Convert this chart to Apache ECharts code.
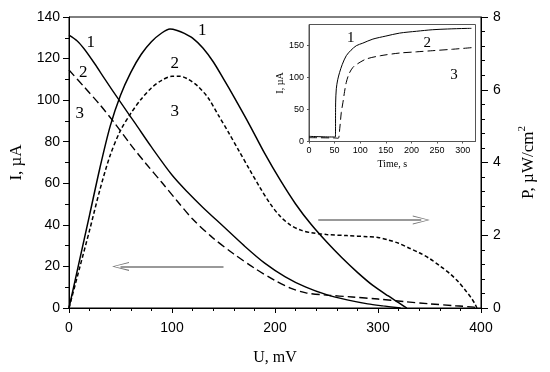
<!DOCTYPE html>
<html>
<head>
<meta charset="utf-8">
<script src="https://cdn.jsdelivr.net/npm/echarts@6/dist/echarts.min.js"></script>
<style>
html,body{margin:0;padding:0;background:#fff;}
#c{width:550px;height:372px;}
</style>
</head>
<body>
<div id="c"></div>
<script>
// ---- main chart data: U (mV) vs I (uA) ----
var iv1 = [[0,131.3],[8,128.5],[15,124.5],[25,117.5],[35,110],[50,99],[65,88.3],[80,77.5],[100,64],[115,55.8],[130,48.4],[150,39.2],[170,30],[190,21.6],[210,15],[230,10],[250,6.4],[270,3.9],[290,2.0],[305,1.0],[322,0]];
var iv2 = [[0,114.5],[15,106.2],[30,97.8],[45,88.5],[60,78.5],[75,69.3],[90,60.5],[105,51.5],[120,42.8],[140,33.6],[160,26],[180,19.2],[200,13.2],[215,9.6],[230,7.3],[250,6.2],[275,5.3],[300,4.3],[325,3.1],[350,2.0],[375,1.1],[393,0.4],[396,0]];
// ---- main chart data: U (mV) vs P (uW/cm2) ----
var p1 = [[0,0],[10,1.28],[20,2.56],[30,3.85],[40,5.0],[50,5.85],[60,6.48],[70,6.97],[80,7.32],[90,7.56],[98,7.67],[105,7.63],[112,7.55],[120,7.42],[130,7.15],[140,6.77],[150,6.3],[160,5.81],[175,5.05],[190,4.25],[205,3.52],[220,2.86],[235,2.3],[250,1.82],[265,1.38],[280,0.98],[295,0.62],[310,0.33],[320,0.15],[328,0]];
var p2 = [[0,0],[10,1.07],[20,2.14],[30,3.25],[40,4.2],[50,4.88],[60,5.35],[70,5.74],[80,6.05],[90,6.26],[100,6.37],[108,6.37],[115,6.3],[125,6.1],[135,5.78],[145,5.3],[155,4.82],[165,4.32],[175,3.82],[185,3.33],[195,2.88],[205,2.52],[215,2.28],[225,2.14],[235,2.07],[250,2.02],[270,1.99],[290,1.96],[300,1.94],[310,1.87],[320,1.78],[330,1.65],[340,1.52],[350,1.36],[360,1.16],[370,0.94],[378,0.72],[385,0.48],[390,0.3],[394,0.12],[396,0]];
// ---- inset data: time (s) vs I (uA) ----
var in1 = [[0,8],[50,7],[51.5,7],[52,60],[53.3,82],[56,96],[59.8,107.6],[65,120],[72.8,133.5],[82,142],[92.3,149],[105,153],[124.7,159.3],[150,164],[176.7,168.6],[210,171.5],[241.6,173.9],[270,175],[306.6,175.9],[317,176]];
var in2 = [[0,6],[50,5.5],[57,5],[60,20],[63,45],[66.3,61],[69.5,78],[72.8,92],[78,105],[85.8,115.4],[95,121],[111.7,128.3],[140,133.5],[176.7,137.6],[210,139.5],[241.6,141.3],[280,143.5],[324,146.4]];
// ---- curve labels (data coordinates) ----
var mainLabels = [[21.7,127.3,'1'],[14.3,113.2,'2'],[11,93.3,'3'],[129.8,133.4,'1'],[103.2,117.2,'2'],[103.2,94.4,'3']];
var insetLabels = [[82.6,160.4,'1'],[231.8,151.6,'2'],[283.9,102.5,'3']];
// ---- arrows (data coordinates) ----
var leftArrow = [[150,20],[50,20]];
var rightArrow = [[242,2.42],[342,2.42]];

var SANS = 'Liberation Sans, Arial, sans-serif';
var SERIF = 'Liberation Serif, Times New Roman, serif';
var chevron = 'path://M0,100 L50,0 L100,100 L88,100 L50,14 L12,100 Z';

function axisCommon(extra){
  var base = {
    type:'value',
    splitLine:{show:false},
    axisLine:{show:true,lineStyle:{color:'#000',width:1}},
    axisTick:{show:true,inside:false,length:5,lineStyle:{color:'#000'}},
    axisLabel:{color:'#000',fontFamily:SANS,fontSize:14},
    nameTextStyle:{color:'#000',fontFamily:SERIF,fontSize:16}
  };
  for (var k in extra) base[k]=extra[k];
  return base;
}
function onlyMultiples(step){ return function(v){ return (Math.abs(v/step - Math.round(v/step))<1e-6) ? String(v) : ''; }; }
function curve(xi, yi, data, width, type){
  return {type:'line',xAxisIndex:xi,yAxisIndex:yi,data:data,symbol:'none',smooth:0.3,
    lineStyle:{color:'#000',width:width,type:type}};
}
function labelSeries(xi, yi, data, size){
  return {type:'scatter',xAxisIndex:xi,yAxisIndex:yi,data:data,symbol:'circle',symbolSize:1,
    itemStyle:{color:'rgba(0,0,0,0)',opacity:1},silent:true,
    label:{show:true,position:[0,0],align:'center',verticalAlign:'middle',opacity:1,
      formatter:function(p){return p.data[2];},
      color:'#000',textBorderWidth:0,fontFamily:SERIF,fontSize:size}};
}

var chart = echarts.init(document.getElementById('c'), null, {renderer:'canvas'});
var sIV1 = curve(0,0,iv1,1.4,'solid');
sIV1.markLine = {silent:true,symbol:['none',chevron],symbolSize:[9,17],label:{show:false},
  lineStyle:{color:'#777',width:1.6,type:'solid'},
  data:[[{coord:leftArrow[0]},{coord:leftArrow[1]}]]};
var sP1 = curve(0,1,p1,1.5,'solid');
sP1.markLine = {silent:true,symbol:['none',chevron],symbolSize:[9,17],label:{show:false},
  lineStyle:{color:'#777',width:1.6,type:'solid'},
  data:[[{coord:rightArrow[0]},{coord:rightArrow[1]}]]};

chart.setOption({
  animation:false,
  backgroundColor:'#fff',
  grid:[
    {left:69,right:69,top:17,bottom:64,show:true,borderColor:'#000',borderWidth:1,containLabel:false},
    {left:309,right:74.5,top:24.5,bottom:230.5,show:true,borderColor:'#555',borderWidth:1,backgroundColor:'#fff',containLabel:false}
  ],
  xAxis:[
    axisCommon({gridIndex:0,min:0,max:400,interval:100,
      minorTick:{show:true,splitNumber:5,length:3,lineStyle:{color:'#000'}},
      axisLabel:{color:'#000',fontFamily:SANS,fontSize:14,margin:13},
      name:'U, mV',nameLocation:'middle',nameGap:42,
      nameTextStyle:{color:'#000',fontFamily:SERIF,fontSize:16}}),
    axisCommon({gridIndex:1,min:0,max:325,interval:50,
      axisLine:{show:true,lineStyle:{color:'#555',width:1}},
      axisTick:{show:true,length:2,lineStyle:{color:'#555'}},
      axisLabel:{color:'#000',fontFamily:SANS,fontSize:9,margin:5,formatter:onlyMultiples(50),showMaxLabel:false},
      name:'Time, s',nameLocation:'middle',nameGap:18,
      nameTextStyle:{color:'#000',fontFamily:SERIF,fontSize:10}})
  ],
  yAxis:[
    axisCommon({gridIndex:0,position:'left',min:0,max:140,interval:20,
      minorTick:{show:true,splitNumber:2,length:4,lineStyle:{color:'#000'}},
      axisTick:{show:true,length:6,lineStyle:{color:'#000'}},
      axisLabel:{color:'#000',fontFamily:SANS,fontSize:14,margin:9},
      name:'I, µA',nameLocation:'middle',nameGap:44,
      nameTextStyle:{color:'#000',fontFamily:SERIF,fontSize:17}}),
    axisCommon({gridIndex:0,position:'right',min:0,max:8,interval:2,
      minorTick:{show:true,splitNumber:5,length:4,lineStyle:{color:'#000'}},
      axisTick:{show:true,length:7,lineStyle:{color:'#000'}},
      axisLabel:{color:'#000',fontFamily:SANS,fontSize:14,margin:12},
      name:'{a|P, µW/cm}{s|2}',nameLocation:'middle',nameGap:36,
      nameTextStyle:{color:'#000',fontFamily:SERIF,fontSize:17,
        rich:{a:{fontFamily:SERIF,fontSize:17,color:'#000',lineHeight:20,verticalAlign:'bottom'},
              s:{fontFamily:SERIF,fontSize:11,color:'#000',lineHeight:20,verticalAlign:'top'}}}}),
    axisCommon({gridIndex:1,min:0,max:182,interval:50,
      axisLine:{show:true,lineStyle:{color:'#555',width:1}},
      axisTick:{show:true,length:2,lineStyle:{color:'#555'}},
      axisLabel:{color:'#000',fontFamily:SANS,fontSize:9,margin:5,formatter:onlyMultiples(50),showMaxLabel:false},
      name:'I, µA',nameLocation:'middle',nameGap:24,
      nameTextStyle:{color:'#000',fontFamily:SERIF,fontSize:10}})
  ],
  series:[
    sIV1,
    curve(0,0,iv2,1.4,[8,4]),
    sP1,
    curve(0,1,p2,1.5,[4,2.5]),
    curve(1,2,in1,1,'solid'),
    curve(1,2,in2,1,[8,4]),
    labelSeries(0,0,mainLabels,17),
    labelSeries(1,2,insetLabels,15)
  ]
});
</script>
</body>
</html>
